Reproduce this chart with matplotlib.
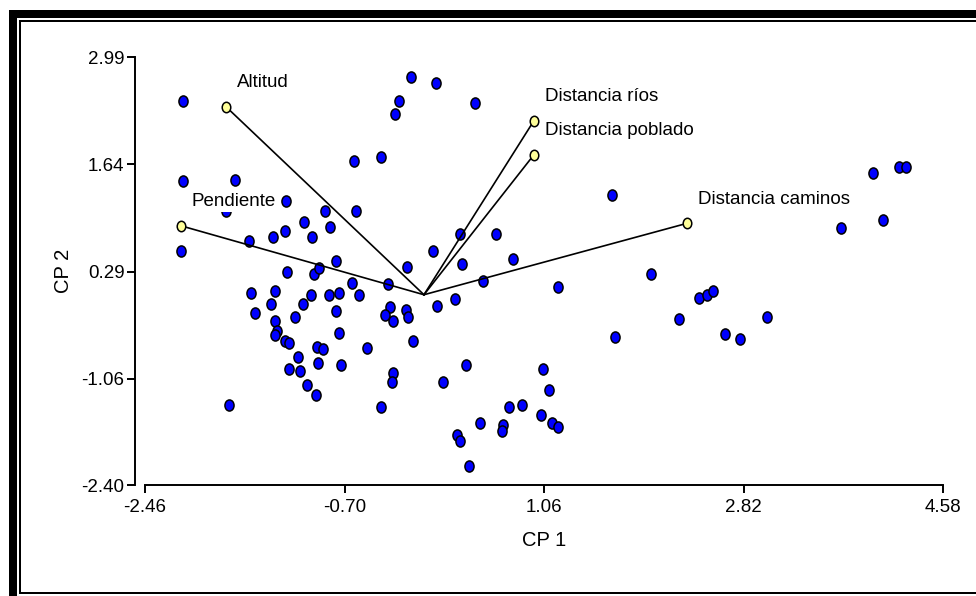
import matplotlib.pyplot as plt
from matplotlib.patches import Rectangle
from matplotlib.path import Path
from matplotlib.transforms import Affine2D

plt.rcParams['font.family'] = ['Liberation Sans', 'DejaVu Sans']

# scores of the sites on the first two components
cp1 = [-2.122, -0.117, 0.109, -0.223, -0.258, 0.447, -0.620, -0.383, -2.122, -1.669,
       -1.217, -1.508, -1.746, -2.145, -1.546, -1.334, -1.225, -1.055, -0.875, -0.987,
       -0.829, -0.599, -0.776, -0.147, 0.077, -1.210, -0.970, -0.923, 1.658, 0.318,
       0.635, 0.335, 0.785, 1.999, 0.525, 3.957, 4.186, 4.251, 3.675, 4.045,
       -0.637, -0.319, -0.752, -0.573, 0.112, 0.272, -0.300, -0.344, -0.158, -0.141,
       -0.276, -0.776, -0.749, -0.099, -0.505, -1.528, -1.316, -1.352, -1.069, -0.999,
       -0.840, -1.493, -1.135, -1.316, -1.293, -1.311, -1.223, -1.193, -0.941, -0.893,
       -1.111, -0.934, -1.193, -1.093, -0.734, -1.034, -0.952, -1.722, -0.276, -0.282,
       -0.382, 0.172, 0.289, 0.318, 1.182, 2.423, 2.493, 2.551, 2.246, 3.022,
       1.682, 2.652, 2.787, 0.371, 1.047, 1.100, 0.747, 0.865, 1.029, 1.129,
       1.182, 0.494, 0.694, 0.688, 0.394]
cp2 = [2.440, 2.746, 2.670, 2.443, 2.270, 2.418, 1.687, 1.738, 1.436, 1.441,
       1.184, 1.218, 1.054, 0.555, 0.680, 0.731, 0.806, 0.920, 1.058, 0.731,
       0.849, 1.058, 0.429, 0.353, 0.555, 0.280, 0.257, 0.333, 1.260, 0.765,
       0.765, 0.385, 0.454, 0.257, 0.177, 1.537, 1.612, 1.612, 0.840, 0.941,
       0.152, 0.129, 0.026, -0.003, -0.136, -0.060, -0.151, -0.251, -0.198, -0.277,
       -0.327, -0.201, -0.478, -0.579, -0.671, 0.026, 0.051, -0.117, -0.117, 0.000,
       0.000, -0.226, -0.277, -0.327, -0.453, -0.503, -0.579, -0.604, -0.654, -0.680,
       -0.780, -0.856, -0.931, -0.957, -0.881, -1.140, -1.259, -1.389, -0.982, -1.099,
       -1.410, -1.095, -1.763, -1.838, 0.101, -0.037, 0.000, 0.051, -0.302, -0.277,
       -0.528, -0.494, -0.554, -0.881, -0.931, -1.200, -1.410, -1.385, -1.511, -1.611,
       -1.662, -1.611, -1.637, -1.720, -2.153]

# variable vectors
var_names = ['Altitud', 'Distancia ríos', 'Distancia poblado', 'Distancia caminos', 'Pendiente']
var_cp1 = [-1.746, 0.970, 0.970, 2.322, -2.145]
var_cp2 = [2.368, 2.192, 1.763, 0.900, 0.869]

xticks = [-2.46, -0.70, 1.06, 2.82, 4.58]
yticks = [-2.40, -1.06, 0.29, 1.64, 2.99]

fig = plt.figure(figsize=(9.76, 5.96), dpi=100)
ax = fig.add_axes([145/976, 1 - 485.3/596, 798.3/976, 428/596])

ell = Path.unit_circle().transformed(Affine2D().scale(0.82, 1.0))

ax.plot(cp1, cp2, ls='none', marker=ell, ms=8, mfc='#0000ff', mec='black', mew=1.1,
        zorder=2, clip_on=False)
for x, y in zip(var_cp1, var_cp2):
    ax.plot([0, x], [0, y], color='black', lw=1.2, zorder=3)
ax.plot(var_cp1, var_cp2, ls='none', marker=ell, ms=7.5, mfc='#ffff99', mec='black', mew=1.1,
        zorder=4)
for name, x, y in zip(var_names, var_cp1, var_cp2):
    ax.annotate(name, (x, y), xytext=(8, 14), textcoords='offset points', fontsize=13.5,
                va='baseline', ha='left', zorder=5,
                bbox=dict(boxstyle='square,pad=0.1', fc='white', ec='none'))

ax.set_xlim(xticks[0], xticks[-1])
ax.set_ylim(yticks[0], yticks[-1])
ax.set_xticks(xticks, ['%.2f' % v for v in xticks])
ax.set_yticks(yticks, ['%.2f' % v for v in yticks], va='baseline')
ax.tick_params(direction='out', length=6, width=1.4, labelsize=13.5)
ax.tick_params(axis='y', pad=1.5)
ax.tick_params(axis='x', pad=4)

for s in ['top', 'right']:
    ax.spines[s].set_visible(False)
for s in ['left', 'bottom']:
    ax.spines[s].set_linewidth(1.4)
ax.spines['left'].set_position(('outward', 7.2))

ax.set_xlabel('CP 1', fontsize=14.5, va='center')
ax.set_ylabel('CP 2', fontsize=14.5, va='center')
ax.xaxis.set_label_coords(0.5, -0.130)
ax.yaxis.set_label_coords(-0.102, 0.5)

# double frame around the picture
W, H = 976, 596
def px_rect(x0, y0, x1, y1, **kw):
    fig.add_artist(Rectangle((x0/W, 1 - y1/H), (x1 - x0)/W, (y1 - y0)/H,
                             transform=fig.transFigure, lw=0, fc='black', **kw))

px_rect(9, 10, W, 18.3)
px_rect(9, 10, 17, H)
px_rect(19, 20, W, 22)
px_rect(19, 20, 21, 594.3)
px_rect(19, 592.3, W, 594.3)

fig.savefig('out.png', dpi=100)
